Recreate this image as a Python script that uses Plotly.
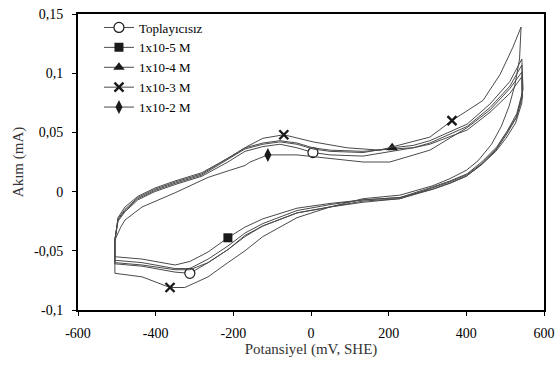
import plotly.graph_objects as go

# ---- data ----
series_names = ["Toplayıcısız", "1x10-5 M", "1x10-4 M", "1x10-3 M", "1x10-2 M"]

# Toplayıcısız (open circle)
x_top = [-505, -497, -479, -446, -402, -350, -281, -214, -170, -124, -80, -36, 5, 49, 134, 209, 263, 306, 402, 461, 512, 543,
         544, 529, 503, 477, 441, 400, 356, 312, 229, 134, 49, -36, -124, -170, -214, -265, -312, -350, -435, -505, -505]
y_top = [-0.041, -0.025, -0.017, -0.007, 0.000, 0.006, 0.013, 0.025, 0.034, 0.038, 0.040, 0.037, 0.033, 0.031, 0.030, 0.034, 0.037, 0.041, 0.055, 0.071, 0.089, 0.107,
         0.082, 0.063, 0.049, 0.036, 0.024, 0.014, 0.008, 0.003, -0.006, -0.008, -0.013, -0.018, -0.029, -0.038, -0.049, -0.060, -0.069, -0.068, -0.063, -0.061, -0.041]
mx_top = [5, -312]
my_top = [0.033, -0.069]

# 1x10-5 M (square)
x_e5 = [-505, -497, -479, -446, -402, -350, -281, -214, -170, -124, -80, -36, 5, 49, 134, 209, 263, 306, 402, 461, 512, 543,
        543, 527, 502, 476, 440, 400, 356, 312, 229, 134, 49, -36, -124, -170, -214, -265, -312, -350, -435, -505, -505]
y_e5 = [-0.041, -0.023, -0.015, -0.005, 0.002, 0.008, 0.015, 0.028, 0.037, 0.041, 0.043, 0.041, 0.037, 0.035, 0.034, 0.036, 0.037, 0.040, 0.052, 0.067, 0.083, 0.097,
        0.075, 0.058, 0.045, 0.034, 0.023, 0.013, 0.007, 0.002, -0.005, -0.007, -0.010, -0.014, -0.023, -0.030, -0.039, -0.051, -0.059, -0.062, -0.057, -0.055, -0.041]
mx_e5 = [-214]
my_e5 = [-0.039]

# 1x10-4 M (triangle)
x_e4 = [-505, -497, -479, -446, -402, -350, -281, -214, -170, -124, -80, -36, 5, 49, 134, 209, 263, 306, 402, 461, 512, 543,
        546, 530, 505, 479, 443, 402, 358, 314, 229, 134, 49, -36, -124, -170, -214, -265, -312, -350, -435, -505, -505]
y_e4 = [-0.041, -0.024, -0.016, -0.006, 0.001, 0.007, 0.014, 0.027, 0.036, 0.040, 0.042, 0.040, 0.036, 0.034, 0.033, 0.037, 0.039, 0.043, 0.057, 0.074, 0.093, 0.112,
        0.086, 0.066, 0.051, 0.038, 0.026, 0.015, 0.009, 0.004, -0.005, -0.007, -0.011, -0.016, -0.027, -0.035, -0.046, -0.057, -0.065, -0.065, -0.060, -0.058, -0.041]
mx_e4 = [209]
my_e4 = [0.037]

# 1x10-3 M (x)
x_e3 = [-505, -497, -479, -446, -402, -350, -281, -209, -165, -124, -70, 5, 93, 178, 247, 306, 363, 443, 487, 520, 541,
        537, 525, 510, 490, 465, 430, 400, 358, 314, 229, 134, 49, -36, -124, -170, -214, -265, -325, -363, -435, -505, -505]
y_e3 = [-0.041, -0.022, -0.013, -0.004, 0.003, 0.009, 0.016, 0.029, 0.038, 0.045, 0.048, 0.042, 0.037, 0.035, 0.041, 0.046, 0.060, 0.077, 0.099, 0.122, 0.139,
        0.112, 0.090, 0.072, 0.055, 0.040, 0.026, 0.018, 0.011, 0.005, -0.003, -0.006, -0.013, -0.022, -0.038, -0.050, -0.060, -0.072, -0.081, -0.081, -0.072, -0.069, -0.041]
mx_e3 = [-70, 363, -363]
my_e3 = [0.048, 0.060, -0.081]

# 1x10-2 M (diamond)
x_e2 = [-505, -490, -479, -435, -350, -265, -209, -170, -157, -111, -36, 49, 134, 203, 306, 402, 461, 512, 543,
        545, 528, 503, 476, 440, 400, 358, 314, 229, 134, 49, -36, -124, -170, -214, -265, -312, -350, -435, -505, -505]
y_e2 = [-0.041, -0.030, -0.024, -0.013, -0.001, 0.012, 0.018, 0.022, 0.025, 0.031, 0.031, 0.028, 0.025, 0.025, 0.035, 0.054, 0.069, 0.087, 0.101,
        0.080, 0.062, 0.048, 0.035, 0.023, 0.013, 0.007, 0.002, -0.006, -0.009, -0.013, -0.018, -0.029, -0.037, -0.049, -0.060, -0.066, -0.066, -0.062, -0.060, -0.041]
mx_e2 = [-111]
my_e2 = [0.031]

x_tickvals = [-600, -400, -200, 0, 200, 400, 600]
x_ticktext = ["-600", "-400", "-200", "0", "200", "400", "600"]
y_tickvals = [-0.1, -0.05, 0, 0.05, 0.1, 0.15]
y_ticktext = ["-0,1", "-0,05", "0", "0,05", "0,1", "0,15"]

# ---- styles ----
LINE_COLOR = "#4a4a4a"
MK = "#1a1a1a"
marker_styles = [
    dict(symbol="circle", size=10, color="white", line=dict(color=MK, width=1.2)),
    dict(symbol="square", size=9, color=MK, line=dict(color=MK, width=0)),
    dict(symbol="triangle-up", size=10, color=MK, line=dict(color=MK, width=0)),
    dict(symbol="x-thin", size=9, color=MK, line=dict(color=MK, width=2.4)),
    dict(symbol="diamond-tall", size=10, color=MK, line=dict(color=MK, width=0)),
]

curves = [(x_top, y_top, mx_top, my_top), (x_e5, y_e5, mx_e5, my_e5), (x_e4, y_e4, mx_e4, my_e4),
          (x_e3, y_e3, mx_e3, my_e3), (x_e2, y_e2, mx_e2, my_e2)]

fig = go.Figure()
for name, (cx, cy, mx, my), ms in zip(series_names, curves, marker_styles):
    fig.add_trace(go.Scatter(x=cx, y=cy, mode="lines", line=dict(color=LINE_COLOR, width=1),
                             showlegend=False, hoverinfo="skip"))
    fig.add_trace(go.Scatter(x=mx, y=my, mode="markers", marker=ms, showlegend=False))
# legend entries (line + marker)
for name, ms in zip(series_names, marker_styles):
    fig.add_trace(go.Scatter(x=[None], y=[None], mode="lines+markers", name=name,
                             line=dict(color=LINE_COLOR, width=1), marker=ms))

FONT = "Liberation Serif"
fig.update_layout(
    width=558, height=365,
    margin=dict(l=78, r=14, t=14, b=55),
    paper_bgcolor="white", plot_bgcolor="white",
    font=dict(family=FONT, size=13, color="black"),
    legend=dict(x=0.045, y=1.005, xanchor="left", yanchor="top", bgcolor="rgba(0,0,0,0)",
                font=dict(family=FONT, size=13, color="black"), tracegroupgap=0,
                itemwidth=30),
    xaxis=dict(range=[-600, 600], tickvals=x_tickvals, ticktext=x_ticktext, automargin=False,
               showgrid=False, zeroline=False, showline=True, linecolor="black", linewidth=2,
               mirror=True, ticks="outside", ticklen=4, tickwidth=1, tickcolor="black",
               ticklabelstandoff=5,
               tickfont=dict(family=FONT, size=14, color="black"),
               title=dict(text="Potansiyel (mV, SHE)", font=dict(family=FONT, size=15, color="#333"), standoff=3)),
    yaxis=dict(range=[-0.1, 0.15], tickvals=y_tickvals, ticktext=y_ticktext, automargin=False,
               showgrid=False, zeroline=False, showline=True, linecolor="black", linewidth=2,
               mirror=True, ticks="outside", ticklen=4, tickwidth=1, tickcolor="black",
               ticklabelstandoff=6,
               tickfont=dict(family=FONT, size=14, color="black"),
               title=dict(text="Akım (mA)", font=dict(family=FONT, size=15, color="#333"), standoff=7)),
)

fig.write_html("out.html")
